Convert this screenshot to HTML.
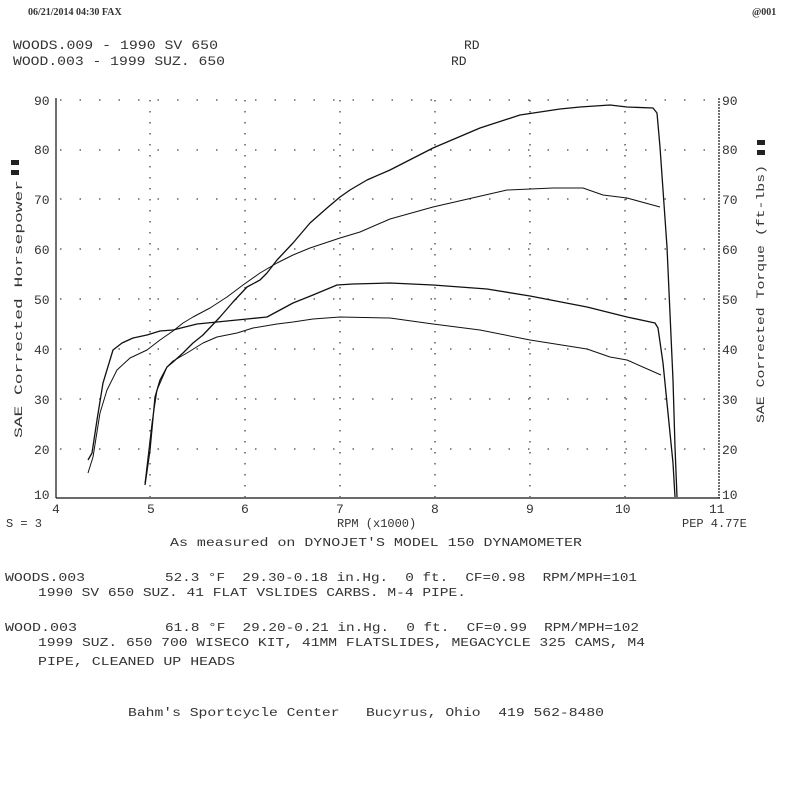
<!DOCTYPE html>
<html><head><meta charset="utf-8"><style>
html,body{margin:0;padding:0;background:#fff;}
svg{display:block;}
text{font-family:"Liberation Mono",monospace;fill:#333;white-space:pre;}
</style></head><body>
<svg width="793" height="793" viewBox="0 0 793 793" xmlns="http://www.w3.org/2000/svg" xml:space="preserve">
<rect width="793" height="793" fill="#fff"/>
<text x="28" y="15" font-size="10" font-weight="bold" style="font-family:'Liberation Serif',serif">06/21/2014 04:30 FAX</text>
<text x="752" y="15" font-size="10" style="font-family:'Liberation Serif',serif" font-weight="bold">@001</text>
<text x="13" y="49" font-size="13" textLength="205" lengthAdjust="spacingAndGlyphs">WOODS.009 - 1990 SV 650</text>
<text x="464" y="49" font-size="13">RD</text>
<text x="13" y="65" font-size="13" textLength="212" lengthAdjust="spacingAndGlyphs">WOOD.003 - 1999 SUZ. 650</text>
<text x="451" y="65" font-size="13">RD</text>

<g stroke="#444" stroke-width="1.3" stroke-dasharray="1.5 18">
<line x1="60" y1="100" x2="720" y2="100"/><line x1="60" y1="150" x2="720" y2="150"/>
<line x1="60" y1="199" x2="720" y2="199"/><line x1="60" y1="249" x2="720" y2="249"/>
<line x1="60" y1="299" x2="720" y2="299"/><line x1="60" y1="349" x2="720" y2="349"/>
<line x1="60" y1="399" x2="720" y2="399"/><line x1="60" y1="449" x2="720" y2="449"/>
</g>
<g stroke="#444" stroke-width="1.3" stroke-dasharray="1.5 9.5">
<line x1="150" y1="100" x2="150" y2="497"/><line x1="245" y1="100" x2="245" y2="497"/>
<line x1="340" y1="100" x2="340" y2="497"/><line x1="435" y1="100" x2="435" y2="497"/>
<line x1="530" y1="100" x2="530" y2="497"/><line x1="625" y1="100" x2="625" y2="497"/>
</g>
<g stroke="#111" stroke-width="1.2" fill="none">
<line x1="56" y1="98" x2="56" y2="498"/>
<line x1="56" y1="498" x2="720" y2="498"/>
<line x1="719" y1="98" x2="719" y2="498" stroke-dasharray="2 1"/>
</g>
<g font-size="13">
<text x="34" y="105">90</text><text x="34" y="154">80</text><text x="34" y="204">70</text>
<text x="34" y="254">60</text><text x="34" y="304">50</text><text x="34" y="354">40</text>
<text x="34" y="404">30</text><text x="34" y="454">20</text><text x="34" y="499">10</text>
<text x="722" y="105">90</text><text x="722" y="154">80</text><text x="722" y="204">70</text>
<text x="722" y="254">60</text><text x="722" y="304">50</text><text x="722" y="354">40</text>
<text x="722" y="404">30</text><text x="722" y="454">20</text><text x="722" y="499">10</text>
<text x="52" y="513">4</text><text x="147" y="513">5</text><text x="241" y="513">6</text>
<text x="336" y="513">7</text><text x="431" y="513">8</text><text x="526" y="513">9</text>
<text x="615" y="513">10</text><text x="709" y="513">11</text>
</g>
<text font-size="11" textLength="258" lengthAdjust="spacingAndGlyphs" transform="translate(22,438) rotate(-90)">SAE Corrected Horsepower</text>
<text font-size="11" textLength="258" lengthAdjust="spacingAndGlyphs" transform="translate(764,423) rotate(-90)">SAE Corrected Torque (ft-lbs)</text>
<rect x="11" y="160" width="8" height="5" fill="#222"/><rect x="11" y="170" width="8" height="5" fill="#222"/>
<rect x="757" y="140" width="8" height="5" fill="#222"/><rect x="757" y="150" width="8" height="5" fill="#222"/>

<g fill="none" stroke="#111" stroke-width="1.3" stroke-linejoin="round">
<polyline points="145,485 150,450 155,397 160,380 167,367 173,362 183,353 193,343 203,335 220,317 233,302 247,287 260,280 267,273 277,260 293,243 310,223 327,208 340,197 350,190 367,180 390,170 433,148 480,128 520,115 560,109 580,107 610,105 627,107 653,108 657,113 660,147 667,247 673,380 675,447 677,497"/>
<polyline stroke-width="1" points="88,473 93,457 100,413 107,390 117,370 130,358 147,350 160,340 173,331 183,323 193,317 210,308 227,297 243,285 260,273 277,263 293,255 310,248 340,238 360,232 390,219 433,207 507,190 553,188 583,188 603,195 627,198 660,207"/>
<polyline points="88,460 92,453 97,420 103,383 113,350 122,343 133,338 147,335 160,331 173,330 197,324 247,319 267,317 293,303 313,295 337,285 353,284 390,283 433,285 487,289 530,296 587,307 627,317 655,323 658,328 663,363 668,413 673,463 675,497"/>
<polyline stroke-width="1" points="145,483 152,423 157,390 167,367 173,361 187,353 203,343 217,337 237,333 253,328 277,324 293,322 313,319 340,317 390,318 433,324 480,330 530,340 587,349 610,357 627,360 661,375"/>
</g>

<g font-size="12">
<text x="6" y="527">S = 3</text>
<text x="337" y="527">RPM (x1000)</text>
<text x="682" y="527">PEP 4.77E</text>
<text x="170" y="546" textLength="412" lengthAdjust="spacingAndGlyphs">As measured on DYNOJET'S MODEL 150 DYNAMOMETER</text>
<text x="5" y="581" textLength="80" lengthAdjust="spacingAndGlyphs">WOODS.003</text>
<text x="165" y="581" textLength="472" lengthAdjust="spacingAndGlyphs">52.3 °F  29.30-0.18 in.Hg.  0 ft.  CF=0.98  RPM/MPH=101</text>
<text x="38" y="596" textLength="428" lengthAdjust="spacingAndGlyphs">1990 SV 650 SUZ. 41 FLAT VSLIDES CARBS. M-4 PIPE.</text>
<text x="5" y="631" textLength="72" lengthAdjust="spacingAndGlyphs">WOOD.003</text>
<text x="165" y="631" textLength="474" lengthAdjust="spacingAndGlyphs">61.8 °F  29.20-0.21 in.Hg.  0 ft.  CF=0.99  RPM/MPH=102</text>
<text x="38" y="646" textLength="607" lengthAdjust="spacingAndGlyphs">1999 SUZ. 650 700 WISECO KIT, 41MM FLATSLIDES, MEGACYCLE 325 CAMS, M4</text>
<text x="38" y="665" textLength="197" lengthAdjust="spacingAndGlyphs">PIPE, CLEANED UP HEADS</text>
<text x="128" y="716" textLength="476" lengthAdjust="spacingAndGlyphs">Bahm's Sportcycle Center   Bucyrus, Ohio  419 562-8480</text>
</g>
</svg>
</body></html>
